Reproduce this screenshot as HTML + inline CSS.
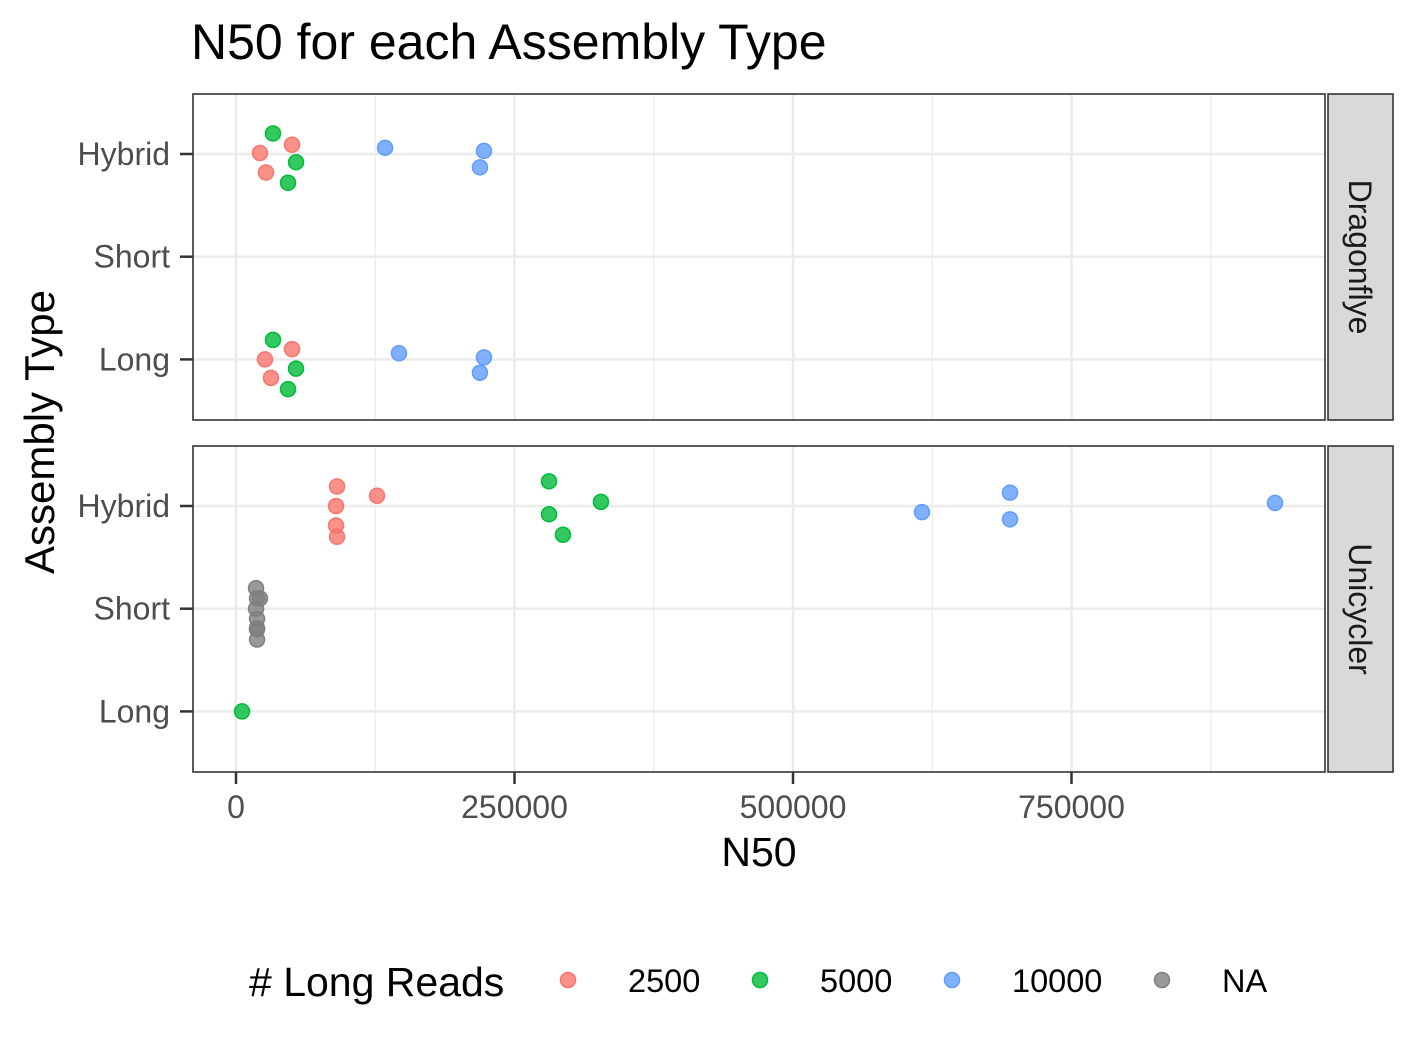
<!DOCTYPE html>
<html><head><meta charset="utf-8"><style>body{margin:0;background:#fff}svg{display:block;font-family:"Liberation Sans",Arial,sans-serif}</style></head>
<body>
<svg id="chart" width="1417" height="1062" xmlns="http://www.w3.org/2000/svg"></svg>
<script>
const categories = ["Hybrid","Short","Long"];
const facets = ["Dragonflye","Unicycler"];
const groups = ["2500","5000","10000","NA"];
const xTicks = [0,250000,500000,750000];
const xMinor = [125000,375000,625000,875000];
// points: facet index, category, group, N50 value, jitter (category units, +down)
const ptFacet = [0,0,0,0,0,0,0,0,0, 0,0,0,0,0,0,0,0,0, 1,1,1,1,1,1,1,1,1,1,1,1,1, 1,1,1,1,1,1,1,1, 1];
const ptCat = ["Hybrid","Hybrid","Hybrid","Hybrid","Hybrid","Hybrid","Hybrid","Hybrid","Hybrid",
 "Long","Long","Long","Long","Long","Long","Long","Long","Long",
 "Hybrid","Hybrid","Hybrid","Hybrid","Hybrid","Hybrid","Hybrid","Hybrid","Hybrid","Hybrid","Hybrid","Hybrid","Hybrid",
 "Short","Short","Short","Short","Short","Short","Short","Short","Long"];
const ptGroup = ["2500","2500","2500","5000","5000","5000","10000","10000","10000",
 "2500","2500","2500","5000","5000","5000","10000","10000","10000",
 "2500","2500","2500","2500","2500","5000","5000","5000","5000","10000","10000","10000","10000",
 "NA","NA","NA","NA","NA","NA","NA","NA","5000"];
const ptValue = [21500,50300,26900,33200,53900,46700,133800,222600,219000,
 26000,50300,31400,33200,53900,46700,146300,222600,219000,
 90700,126600,89800,89800,90700,281000,327600,281000,293500,615800,694800,694800,932700,
 18000,18900,21500,18000,18900,18900,18900,18900,5400];
const ptJitter = [-0.01,-0.09,0.18,-0.2,0.08,0.28,-0.06,-0.03,0.13,
 0,-0.1,0.18,-0.19,0.09,0.29,-0.06,-0.02,0.13,
 -0.19,-0.1,0,0.19,0.3,-0.24,-0.04,0.08,0.28,0.06,-0.13,0.13,-0.03,
 -0.2,-0.1,-0.1,0,0.1,0.2,0.3,0.19,0];
const colors = {"2500":"#F8766D","5000":"#00BA38","10000":"#619CFF","NA":"#7F7F7F"};

const svg = document.getElementById('chart');
const NS = "http://www.w3.org/2000/svg";
function mk(tag, attrs, parent){const e=document.createElementNS(NS,tag);for(const k in attrs)e.setAttribute(k,attrs[k]);(parent||svg).appendChild(e);return e;}
const PL=193, PR=1325, panelTop=[94,446], PH=326;
const xScale = v => 236 + v*(278.5/250000);
const yScale = (f,cat,j) => panelTop[f] + 60 + (categories.indexOf(cat)+(j||0))*102.7;

let t = mk('text',{x:191,y:59,'font-size':50,fill:'#000'});


t.textContent='N50 for each Assembly Type';

facets.forEach((fname,f)=>{
  const g = mk('g',{});
  
  
  const top=panelTop[f];
  mk('rect',{x:PL,y:top,width:PR-PL,height:PH,fill:'#fff'},g);
  xMinor.forEach(v=>{const x=xScale(v);if(x<PR)mk('line',{x1:x,x2:x,y1:top,y2:top+PH,stroke:'#EBEBEB','stroke-width':1.2},g);});
  categories.forEach(c=>{const y=yScale(f,c);mk('line',{x1:PL,x2:PR,y1:y,y2:y,stroke:'#EBEBEB','stroke-width':2.5},g);
    const lb=mk('text',{x:170,y:y+11,'font-size':32,fill:'#4D4D4D','text-anchor':'end'},g);
    
    
    lb.textContent=c;
    mk('line',{x1:180,x2:193,y1:y,y2:y,stroke:'#333','stroke-width':2.5},g);});
  xTicks.forEach(v=>{const x=xScale(v);mk('line',{x1:x,x2:x,y1:top,y2:top+PH,stroke:'#EBEBEB','stroke-width':2.5},g);});
  for(let i=0;i<ptValue.length;i++){ if(ptFacet[i]!==f) continue;
    const c=mk('circle',{cx:xScale(ptValue[i]),cy:yScale(f,ptCat[i],ptJitter[i]),r:7.5,fill:colors[ptGroup[i]],'fill-opacity':0.8,stroke:colors[ptGroup[i]],'stroke-width':1.5},g);
    
    
  }
  mk('rect',{x:PL,y:top,width:PR-PL,height:PH,fill:'none',stroke:'#333','stroke-width':1.6},g);
  const s=mk('rect',{x:1328,y:top,width:65,height:PH,fill:'#D9D9D9',stroke:'#333','stroke-width':1.6},g);
  
  
  const st=mk('text',{x:1349,y:top+PH/2,'font-size':32,fill:'#1A1A1A','text-anchor':'middle',transform:`rotate(90 1349 ${top+PH/2})`},g);
  
  
  st.textContent=fname;
});
xTicks.forEach(v=>{const x=xScale(v);
  mk('line',{x1:x,x2:x,y1:772,y2:784,stroke:'#333','stroke-width':2.5});
  const lb=mk('text',{x:x,y:818,'font-size':32,fill:'#4D4D4D','text-anchor':'middle'});
  
  
  lb.textContent=v;});
let xa=mk('text',{x:759,y:866,'font-size':41,fill:'#000','text-anchor':'middle'});


xa.textContent='N50';
let ya=mk('text',{x:54,y:432,'font-size':42,fill:'#000','text-anchor':'middle',transform:'rotate(-90 54 432)'});


ya.textContent='Assembly Type';
let lt=mk('text',{x:249,y:996,'font-size':41,fill:'#000'});


lt.textContent='# Long Reads';
const legX=[568,760,952,1162];
groups.forEach((gname,i)=>{
  const c=mk('circle',{cx:legX[i],cy:980,r:7.5,fill:colors[gname],'fill-opacity':0.8,stroke:colors[gname],'stroke-width':1.5});
  
  
  const tx=mk('text',{x:legX[i]+60,y:992,'font-size':32.5,fill:'#000'});
  
  
  tx.textContent=gname;
});
</script>
</body></html>
